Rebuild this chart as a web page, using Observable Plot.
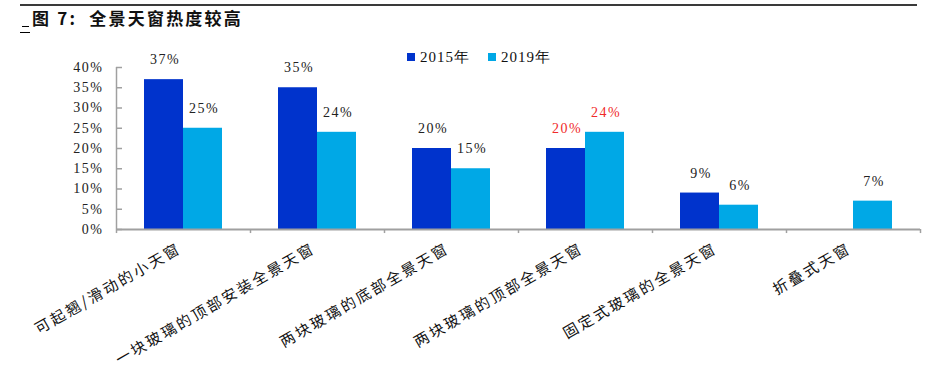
<!DOCTYPE html>
<html>
<head>
<meta charset="utf-8">
<script src="https://cdn.jsdelivr.net/npm/d3@7"></script>
<script src="https://cdn.jsdelivr.net/npm/@observablehq/plot@0.6"></script>
<style>
  body { margin: 0; background: #fff; }
  #wrap { position: relative; width: 928px; height: 381px; overflow: hidden; background: #fff; }
  .topline { position: absolute; left: 20px; top: 4px; width: 897px; height: 2px; background: #3a3a3a; }
  .under { position: absolute; left: 22px; top: 26px; width: 7px; height: 1px; background: #000; }
  .dash { position: absolute; left: 20px; top: 32px; width: 10px; height: 1px; background: #000; }
  .title { position: absolute; left: 32px; top: 9px; font: 700 17px/18px "Noto Sans CJK SC", sans-serif; color: #111; white-space: pre; letter-spacing: 2.2px; }
  #chart { position: absolute; left: 0; top: 35px; }
  .legend { position: absolute; left: 407px; top: 49px; display: flex; align-items: center;
            font: 15px/16px "Liberation Serif", "Times New Roman", serif; color: #111; letter-spacing: 1px; }
  .legend .sw { width: 8px; height: 8px; margin-right: 5px; }
  .legend .item { display: flex; align-items: center; margin-right: 18px; }
</style>
</head>
<body>
<div id="wrap">
  <div class="topline"></div>
  <div class="under"></div>
  <div class="title" id="title"></div>
  <div class="dash"></div>
  <div id="chart"></div>
  <div class="legend" id="legend"></div>
</div>
<script>
const title = "图 7:  全景天窗热度较高";
const categories = [
  "可起翘/滑动的小天窗",
  "一块玻璃的顶部安装全景天窗",
  "两块玻璃的底部全景天窗",
  "两块玻璃的顶部全景天窗",
  "固定式玻璃的全景天窗",
  "折叠式天窗"
];
const years = ["2015年", "2019年"];
const values2015 = [37, 35, 20, 20, 9, null];
const values2019 = [25, 24, 15, 24, 6, 7];
const yTicks = [0, 5, 10, 15, 20, 25, 30, 35, 40];
const highlighted = ["两块玻璃的顶部全景天窗"];

const colors = ["#0033cc", "#00a8e6"];
const axisColor = "#a0a0a0";
const textColor = "#222";
const red = "#f02a2a";

document.getElementById("title").textContent = title;
const legend = document.getElementById("legend");
years.forEach((y, i) => {
  const item = document.createElement("div");
  item.className = "item";
  const sw = document.createElement("div");
  sw.className = "sw";
  sw.style.background = colors[i];
  const t = document.createElement("span");
  t.textContent = y;
  item.appendChild(sw); item.appendChild(t);
  legend.appendChild(item);
});

const rows2015 = categories.map((c, i) => ({category: c, value: values2015[i]})).filter(d => d.value != null);
const rows2019 = categories.map((c, i) => ({category: c, value: values2019[i]})).filter(d => d.value != null);

const W = 928, H = 346, mL = 116, mR = 8, mT = 32, mB = 152;
const step = (W - mL - mR) / categories.length;
const barW = 39;
const outer = (step - 2 * barW) / 2;

const chart = Plot.plot({
  width: W, height: H,
  marginTop: mT, marginBottom: mB, marginLeft: mL, marginRight: mR,
  style: {fontFamily: "'Liberation Serif','Times New Roman',serif", fontSize: "14px", color: textColor, background: "transparent", overflow: "visible"},
  x: {type: "band", domain: categories, padding: 0, axis: null},
  y: {domain: [0, 40], axis: null},
  marks: [
    Plot.barY(rows2015, {x: "category", y: "value", fill: colors[0], insetLeft: outer, insetRight: outer + barW}),
    Plot.barY(rows2019, {x: "category", y: "value", fill: colors[1], insetLeft: outer + barW, insetRight: outer}),
    Plot.ruleY([0], {stroke: axisColor, strokeWidth: 2}),
    Plot.ruleX([categories[0]], {dx: -step / 2, y1: -1, y2: 40, stroke: axisColor, strokeWidth: 1.5}),
    Plot.ruleX(categories.slice(1), {dx: -step / 2, y1: -1, y2: 0, stroke: axisColor, strokeWidth: 1.5}),
    Plot.ruleX([categories[categories.length - 1]], {dx: step / 2, y1: -1, y2: 0, stroke: axisColor, strokeWidth: 1.5}),
    Plot.tickY(yTicks, {x: () => categories[0], y: d => d, insetRight: step - 6, stroke: axisColor, strokeWidth: 1.5}),
    Plot.axisY({ticks: yTicks, tickSize: 0, tickPadding: 13, label: null, tickFormat: d => d + "%", fontSize: 14, fill: textColor}),
    Plot.text(rows2015, {x: "category", y: "value", text: d => d.value + "%", dx: -barW / 2 + 1, dy: -20, fontSize: 14,
      fill: d => highlighted.includes(d.category) ? red : textColor}),
    Plot.text(rows2019, {x: "category", y: "value", text: d => d.value + "%", dx: barW / 2 + 1, dy: -20, fontSize: 14,
      fill: d => highlighted.includes(d.category) ? red : textColor}),
    Plot.text(categories, {x: d => d, frameAnchor: "bottom", rotate: -30, textAnchor: "end", dx: -1, dy: 22,
      fontFamily: "'Noto Sans CJK SC', sans-serif", fontSize: 15, fill: "#111"})
  ]
});
document.getElementById("chart").appendChild(chart);
chart.querySelectorAll("text").forEach(t => {
  const s = t.textContent;
  if (categories.includes(s)) { t.setAttribute("letter-spacing", "2.5"); t.style.letterSpacing = "2.5px"; }
  else if (/%$/.test(s)) { t.setAttribute("letter-spacing", "1.5"); t.style.letterSpacing = "1.5px"; }
});
</script>
</body>
</html>
